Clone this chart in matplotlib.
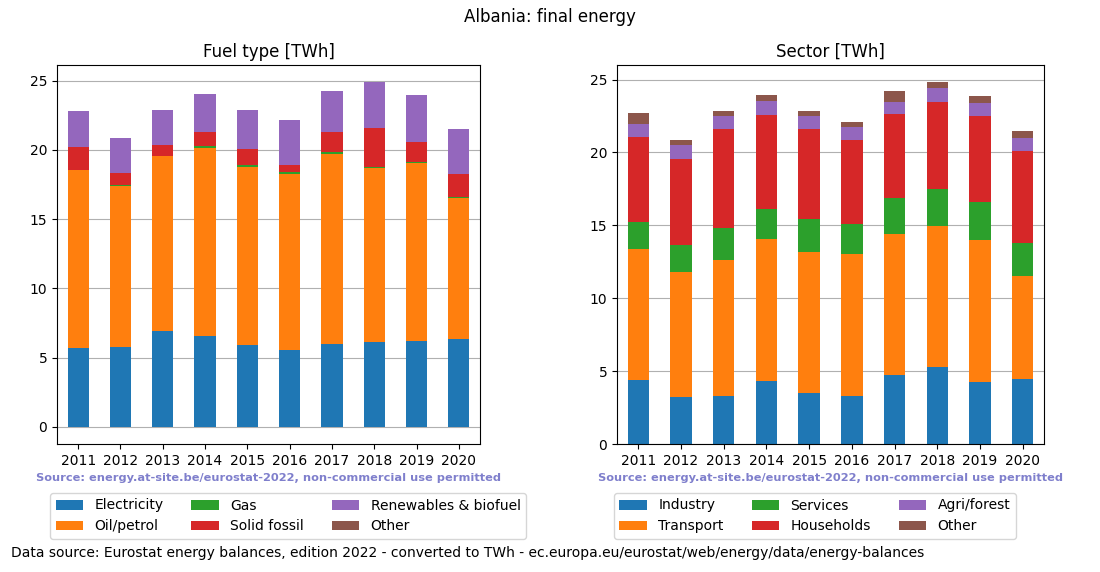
import numpy as np
import matplotlib
matplotlib.use("Agg")
from matplotlib import pyplot as plt

years = ["2011", "2012", "2013", "2014", "2015", "2016", "2017", "2018", "2019", "2020"]

# fuel type [TWh]
electricity = [5.70, 5.78, 6.90, 6.54, 5.90, 5.54, 5.97, 6.11, 6.18, 6.33]
oil_petrol = [12.85, 11.62, 12.66, 13.62, 12.87, 12.72, 13.73, 12.59, 12.88, 10.16]
gas = [0.02, 0.02, 0.02, 0.09, 0.14, 0.10, 0.15, 0.09, 0.07, 0.07]
solid_fossil = [1.63, 0.92, 0.77, 1.03, 1.13, 0.55, 1.43, 2.78, 1.44, 1.70]
renewables = [2.60, 2.51, 2.52, 2.74, 2.83, 3.24, 2.95, 3.31, 3.38, 3.24]
other_fuel = [0, 0, 0, 0, 0, 0, 0, 0, 0, 0]

# sector [TWh]
industry = [4.41, 3.24, 3.31, 4.34, 3.52, 3.31, 4.75, 5.30, 4.27, 4.47]
transport = [8.97, 8.56, 9.32, 9.72, 9.65, 9.73, 9.66, 9.68, 9.73, 7.06]
services = [1.85, 1.85, 2.21, 2.06, 2.26, 2.05, 2.48, 2.51, 2.60, 2.26]
households = [5.82, 5.89, 6.76, 6.44, 6.17, 5.75, 5.74, 5.96, 5.89, 6.30]
agri_forest = [0.89, 0.96, 0.89, 0.96, 0.89, 0.90, 0.82, 0.96, 0.89, 0.89]
other_sector = [0.75, 0.34, 0.34, 0.41, 0.34, 0.34, 0.75, 0.41, 0.48, 0.48]

fuel_series = [("Electricity", electricity), ("Oil/petrol", oil_petrol), ("Gas", gas),
               ("Solid fossil", solid_fossil), ("Renewables & biofuel", renewables),
               ("Other", other_fuel)]
sector_series = [("Industry", industry), ("Transport", transport), ("Services", services),
                 ("Households", households), ("Agri/forest", agri_forest),
                 ("Other", other_sector)]

colors = ["#1f77b4", "#ff7f0e", "#2ca02c", "#d62728", "#9467bd", "#8c564b"]
source = "Source: energy.at-site.be/eurostat-2022, non-commercial use permitted"


def stacked(ax, series, title):
    x = np.arange(len(years))
    bottom = np.zeros(len(years))
    for (name, vals), c in zip(series, colors):
        vals = np.array(vals)
        ax.bar(x, vals, 0.5, bottom=bottom, color=c, label=name, zorder=2)
        bottom += vals
    ax.set_xticks(x)
    ax.set_xticklabels(years)
    ax.set_xlim(-0.5, len(years) - 0.5)
    ax.set_yticks([0, 5, 10, 15, 20, 25])
    ax.grid(axis="y", color="#b0b0b0", zorder=0)
    ax.set_axisbelow(True)
    ax.set_title(title, fontsize=12)
    ax.tick_params(labelsize=10)


fig = plt.figure(figsize=(11, 5.72), dpi=100)
ax1 = fig.add_axes([57 / 1100, 1 - 444 / 572, 423 / 1100, 379 / 572])
ax2 = fig.add_axes([617 / 1100, 1 - 444 / 572, 427 / 1100, 379 / 572])

stacked(ax1, fuel_series, "Fuel type [TWh]")
stacked(ax2, sector_series, "Sector [TWh]")
ax1.set_ylim(-1.244, 26.12)
ax2.set_ylim(0, 26.0)

fig.suptitle("Albania: final energy", y=1 - 17 / 572, fontsize=12, va="center")

for ax in (ax1, ax2):
    ax.text(0.5, -0.09, source, transform=ax.transAxes, ha="center", va="center",
            fontsize=8.2, fontweight="bold", color="#7f7fcc")

ax1.legend(ncol=3, loc="upper left", bbox_to_anchor=(43 / 1100, 1 - 486 / 572),
           bbox_transform=fig.transFigure, fontsize=10)
ax2.legend(ncol=3, loc="upper left", bbox_to_anchor=(607 / 1100, 1 - 486 / 572),
           bbox_transform=fig.transFigure, fontsize=10)

fig.text(11 / 1100, 1 - 553 / 572,
         "Data source: Eurostat energy balances, edition 2022 - converted to TWh - ec.europa.eu/eurostat/web/energy/data/energy-balances",
         fontsize=10, va="center")

fig.savefig("out.png", dpi=100)
